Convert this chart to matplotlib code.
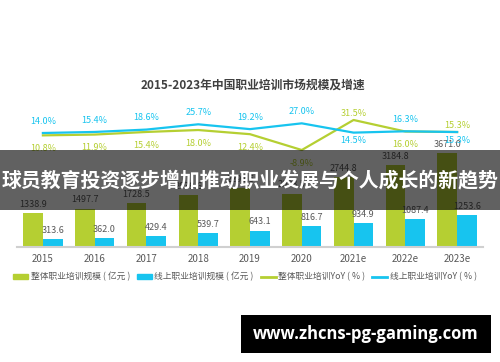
import numpy as np
import matplotlib
matplotlib.use('Agg')
import matplotlib.pyplot as plt
from matplotlib.patches import Rectangle, Patch
from matplotlib.lines import Line2D

plt.rcParams['font.family'] = ['Noto Sans CJK SC', 'DejaVu Sans']

years = ['2015', '2016', '2017', '2018', '2019', '2020', '2021e', '2022e', '2023e']
total_size = [1338.9, 1497.7, 1728.5, 2039.6, 2292.5, 2088.5, 2744.8, 3184.8, 3671.0]
online_size = [313.6, 362.0, 429.4, 539.7, 643.1, 816.7, 934.9, 1087.4, 1253.6]
total_yoy = [10.8, 11.9, 15.4, 18.0, 12.4, -8.9, 31.5, 16.0, 15.3]
online_yoy = [14.0, 15.4, 18.6, 25.7, 19.2, 27.0, 14.5, 16.3, 15.3]
# label placement: +1 above the point, -1 below
total_lab_side = [-1, -1, -1, -1, -1, -1, 1, -1, 1]
online_lab_side = [1, 1, 1, 1, 1, 1, -1, 1, -1]

GREEN = '#b5cf32'
BLUE = '#17c4ef'
GREY = '#595959'

W, H = 500, 362
fig = plt.figure(figsize=(W / 100, H / 100), dpi=100)

base_y = 247
ax = fig.add_axes([17 / W, (H - base_y) / H, 466 / W, 147 / H])
x = np.arange(len(years))
bw = 0.38
ax.bar(x - bw / 2, total_size, bw, color=GREEN, zorder=2)
ax.bar(x + bw / 2, online_size, bw, color=BLUE, zorder=2)
ax.set_xlim(-0.5, 8.5)
ax.set_ylim(0, 147 / 0.0256)
for xi, v in zip(x, total_size):
    ax.annotate(f'{v:.1f}', (xi - bw / 2, v), xytext=(0, 3), textcoords='offset points',
                ha='center', va='bottom', fontsize=6.5, color=GREY)
for xi, v in zip(x, online_size):
    ax.annotate(f'{v:.1f}', (xi + bw / 2, v), xytext=(0, 3), textcoords='offset points',
                ha='center', va='bottom', fontsize=6.5, color=GREY)

for s in ['top', 'left', 'right']:
    ax.spines[s].set_visible(False)
ax.spines['bottom'].set_color('#d0d0d0')
ax.spines['bottom'].set_linewidth(1.5)
ax.set_yticks([])
ax.set_xticks(x)
ax.set_xticklabels(years, fontsize=7, color=GREY)
ax.tick_params(axis='x', length=0, pad=5)

ax2 = ax.twinx()
ax2.set_ylim(-139.4, 58.4)
ax2.plot(x, total_yoy, color=GREEN, lw=1.6, zorder=3)
ax2.plot(x, online_yoy, color=BLUE, lw=1.6, zorder=3)
ax2.set_yticks([])
for s in ['top', 'left', 'right', 'bottom']:
    ax2.spines[s].set_visible(False)
for xi, v, side in zip(x, total_yoy, total_lab_side):
    dy = 5 if side > 0 else -9.5
    ax2.annotate(f'{v:.1f}%', (xi, v), xytext=(0, dy), textcoords='offset points',
                 ha='center', va='center', fontsize=6.5, color=GREEN)
for xi, v, side in zip(x, online_yoy, online_lab_side):
    dy = 8.5 if side > 0 else -6
    ax2.annotate(f'{v:.1f}%', (xi, v), xytext=(0, dy), textcoords='offset points',
                 ha='center', va='center', fontsize=6.5, color=BLUE)

fig.text(0.505, 1 - 85 / H, '2015-2023年中国职业培训市场规模及增速', ha='center', va='center',
         fontsize=8.5, fontweight='bold', color='#404040')

handles = [Patch(color=GREEN), Patch(color=BLUE),
           Line2D([], [], color=GREEN, lw=2), Line2D([], [], color=BLUE, lw=2)]
labels = ['整体职业培训规模 ( 亿元 )', '线上职业培训规模 ( 亿元 )',
          '整体职业培训YoY ( % )', '线上职业培训YoY ( % )']
leg = fig.legend(handles, labels, loc='center', bbox_to_anchor=(0.49, 1 - 277 / H), ncol=4,
                 frameon=False, fontsize=6.3, handlelength=1.7, handleheight=0.6,
                 handletextpad=0.3, columnspacing=0.8)
for t in leg.get_texts():
    t.set_color(GREY)

# dark banner over the chart
fig.patches.append(Rectangle((0, 1 - 210 / H), 1, 60 / H, transform=fig.transFigure,
                             facecolor='black', alpha=0.62, zorder=10))
fig.text(0.5, 1 - 180 / H, '球员教育投资逐步增加推动职业发展与个人成长的新趋势', ha='center',
         va='center', fontsize=14.3, fontweight='bold', color='white', zorder=11)

# watermark box
fig.patches.append(Rectangle((241 / W, 1 - 353 / H), 250 / W, 38 / H, transform=fig.transFigure,
                             facecolor='black', zorder=10))
fig.text(366 / W, 1 - 334 / H, 'www.zhcns-pg-gaming.com', ha='center', va='center',
         fontsize=12, fontweight='bold', color='white', family=['Open Sans', 'DejaVu Sans'],
         zorder=11)

fig.savefig('out.png', dpi=100)
